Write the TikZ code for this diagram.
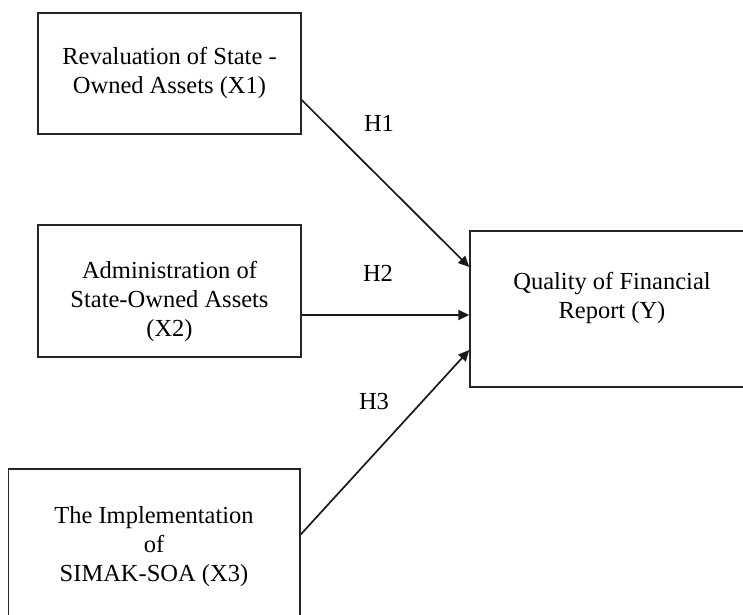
\documentclass[tikz,border=0pt]{standalone}
\usepackage{fontspec}
\setmainfont{Liberation Serif}
\usetikzlibrary{arrows.meta}
\begin{document}
\begin{tikzpicture}[x=1pt,y=-1pt,
  box/.style={draw=black!85, line width=1.4pt, inner sep=0pt},
  txt/.style={align=center, inner sep=0pt, font=\fontsize{24.5}{29}\selectfont},
  conn/.style={draw=black!90, line width=1.7pt, -{Triangle[length=11pt,width=10pt]}},
  hlab/.style={inner sep=0pt, font=\fontsize{24.5}{29}\selectfont}]
\clip (0,0) rectangle (743,614);
\fill[white] (0,0) rectangle (743,614);
\node[box, minimum width=263pt, minimum height=121pt] (X1) at (169.5,73.5) {};
\node[box, minimum width=263pt, minimum height=132pt] (X2) at (169.5,291) {};
\node[box, minimum width=291.5pt, minimum height=156pt] (X3) at (154.25,547) {};
\node[box, minimum width=280pt, minimum height=156pt] (Y) at (610,309) {};
\node[txt] (t1) at (169.5,72.5) {Revaluation of State -\\Owned Assets (X1)};
\node[txt] (t2) at (169.5,301) {Administration of\\State-Owned Assets\\(X2)};
\node[txt] (t3) at (154,547) {The Implementation\\of\\SIMAK-SOA (X3)};
\node[txt] (ty) at (612,298) {Quality of Financial\\Report (Y)};
\draw[conn] ([yshift=-26.5pt]X1.east) -- ([yshift=42pt]Y.west);
\draw[conn] ([yshift=-24pt]X2.east) -- ([yshift=-6pt]Y.west);
\draw[conn] ([yshift=12.5pt]X3.east) -- ([yshift=-41pt]Y.west);
\node[hlab] (h1) at (379,123) {H1};
\node[hlab] (h2) at (378,273) {H2};
\node[hlab] (h3) at (374,401) {H3};
\end{tikzpicture}
\end{document}
